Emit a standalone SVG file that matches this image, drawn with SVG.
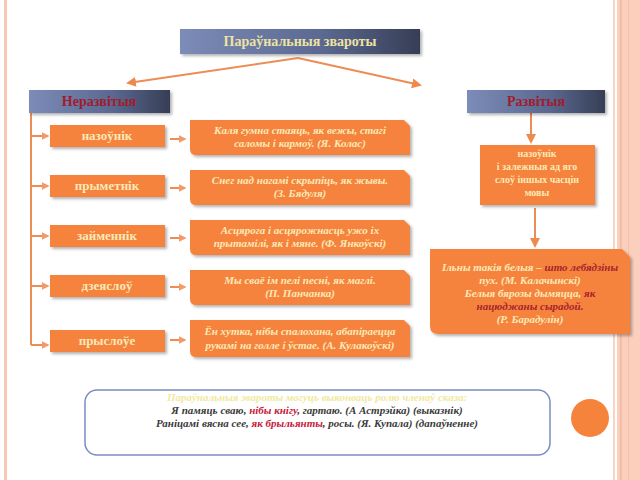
<svg xmlns="http://www.w3.org/2000/svg" width="640" height="480" viewBox="0 0 640 480">
<defs>
<linearGradient id="blue" x1="0" y1="0" x2="1" y2="0">
<stop offset="0" stop-color="#7c8cb8"/>
<stop offset="0.6" stop-color="#5a6890"/>
<stop offset="1" stop-color="#363e55"/>
</linearGradient>
<filter id="sh" x="-10%" y="-20%" width="125%" height="150%">
<feDropShadow dx="2" dy="2" stdDeviation="1.5" flood-color="#000" flood-opacity="0.3"/>
</filter>
<marker id="ah" viewBox="0 0 10 10" refX="8" refY="5" markerWidth="5" markerHeight="5" orient="auto">
<path d="M0,0 L10,5 L0,10 Z" fill="#ef8a4e"/>
</marker>
<marker id="ah2" viewBox="0 0 10 10" refX="8" refY="5" markerWidth="4" markerHeight="4" orient="auto">
<path d="M0,0 L10,5 L0,10 Z" fill="#f39a68"/>
</marker>
</defs>
<style>
.hd{font-family:"Liberation Serif",serif;font-weight:bold;font-size:14px;text-anchor:middle}
.sb{font-family:"Liberation Serif",serif;font-weight:bold;font-size:13px;fill:#fbe9b8;text-anchor:middle}
.rs{font-family:"Liberation Serif",serif;font-weight:bold;font-size:10px;fill:#fbe9b8;text-anchor:middle}
.q{font-family:"Liberation Serif",serif;font-weight:bold;font-style:italic;font-size:11px;fill:#fbe9b8;text-anchor:middle}
.r{fill:#a8242e}
.or{fill:#f6833c}
.ln{stroke:#ec8d55;stroke-width:2;fill:none}
.bt{font-family:"Liberation Serif",serif;font-style:italic;font-weight:bold;font-size:11px;fill:#3a3a3a;text-anchor:middle}
.rd{fill:#c8203a}
</style>
<rect width="640" height="480" fill="#fff"/>
<rect x="4" y="0" width="3" height="480" fill="#f8c8b4"/>
<rect x="613" y="0" width="2" height="480" fill="#fad3c3"/>
<rect x="617" y="0" width="23" height="480" fill="#fbcfbd"/>
<rect x="620" y="0" width="1.5" height="480" fill="#f4b7a0"/>
<rect x="628" y="0" width="1" height="480" fill="#f6bfa9"/>

<g id="connectors">
<line class="ln" x1="298" y1="58" x2="128" y2="83" marker-end="url(#ah)"/>
<line class="ln" x1="298" y1="58" x2="420" y2="85" marker-end="url(#ah)"/>
<path class="ln" d="M31,113 V345" stroke-width="1.5"/>
<line class="ln" x1="31" y1="136" x2="48" y2="136" stroke-width="1.5" marker-end="url(#ah2)"/>
<line class="ln" x1="31" y1="186" x2="48" y2="186" stroke-width="1.5" marker-end="url(#ah2)"/>
<line class="ln" x1="31" y1="236" x2="48" y2="236" stroke-width="1.5" marker-end="url(#ah2)"/>
<line class="ln" x1="31" y1="286" x2="48" y2="286" stroke-width="1.5" marker-end="url(#ah2)"/>
<line class="ln" x1="31" y1="345" x2="48" y2="345" stroke-width="1.5" marker-end="url(#ah2)"/>
<line class="ln" x1="170" y1="139" x2="185" y2="139" stroke-width="2" marker-end="url(#ah2)"/>
<line class="ln" x1="170" y1="188" x2="185" y2="188" stroke-width="2" marker-end="url(#ah2)"/>
<line class="ln" x1="170" y1="238" x2="185" y2="238" stroke-width="2" marker-end="url(#ah2)"/>
<line class="ln" x1="170" y1="287" x2="185" y2="287" stroke-width="2" marker-end="url(#ah2)"/>
<line class="ln" x1="170" y1="340" x2="185" y2="340" stroke-width="2" marker-end="url(#ah2)"/>
<line class="ln" x1="531" y1="113" x2="531" y2="142" marker-end="url(#ah)"/>
<line class="ln" x1="535" y1="208" x2="535" y2="246" marker-end="url(#ah)"/>
</g>

<g id="title">
<rect x="180" y="29" width="240" height="25" fill="url(#blue)" filter="url(#sh)"/>
<text class="hd" x="300" y="46" fill="#efe3a2">Параўнальныя звароты</text>
</g>
<g id="nerazv">
<rect x="29" y="90" width="141" height="23" fill="url(#blue)" filter="url(#sh)"/>
<text class="hd" x="99" y="106" fill="#a01c2c" font-size="13">Неразвітыя</text>
</g>
<g id="razv">
<rect x="467" y="90" width="138" height="23" fill="url(#blue)" filter="url(#sh)"/>
<text class="hd" x="536" y="106" fill="#a01c2c" font-size="13">Развітыя</text>
</g>

<g id="n1"><rect class="or" x="50" y="125" width="115" height="22" filter="url(#sh)"/><text class="sb" x="107" y="140">назоўнік</text></g>
<g id="n2"><rect class="or" x="50" y="175" width="115" height="22" filter="url(#sh)"/><text class="sb" x="107" y="190">прыметнік</text></g>
<g id="n3"><rect class="or" x="50" y="225" width="115" height="22" filter="url(#sh)"/><text class="sb" x="107" y="240">займеннік</text></g>
<g id="n4"><rect class="or" x="50" y="275" width="115" height="22" filter="url(#sh)"/><text class="sb" x="107" y="290">дзеяслоў</text></g>
<g id="n5"><rect class="or" x="50" y="330" width="115" height="22" filter="url(#sh)"/><text class="sb" x="107" y="345">прыслоўе</text></g>

<g id="q1"><path class="or" d="M190,120 H404 L410,126 V155 H196 Q190,155 190,149 Z" filter="url(#sh)"/>
<text class="q" x="300" y="134">Каля гумна стаяць, як вежы, стагі</text><text class="q" x="300" y="147">саломы і кармоў. (Я. Колас)</text></g>
<g id="q2"><path class="or" d="M190,170 H404 L410,176 V205 H196 Q190,205 190,199 Z" filter="url(#sh)"/>
<text class="q" x="300" y="184">Снег над нагамі скрыпіць, як жывы.</text><text class="q" x="300" y="197">(З. Бядуля)</text></g>
<g id="q3"><path class="or" d="M190,220 H404 L410,226 V255 H196 Q190,255 190,249 Z" filter="url(#sh)"/>
<text class="q" x="300" y="234">Асцярога і асцярожнасць ужо іх</text><text class="q" x="300" y="247">прытамілі, як і мяне. (Ф. Янкоўскі)</text></g>
<g id="q4"><path class="or" d="M190,270 H404 L410,276 V305 H196 Q190,305 190,299 Z" filter="url(#sh)"/>
<text class="q" x="300" y="284">Мы сваё ім пелі песні, як маглі.</text><text class="q" x="300" y="297">(П. Панчанка)</text></g>
<g id="q5"><path class="or" d="M190,320 H404 L410,326 V357 H196 Q190,357 190,351 Z" filter="url(#sh)"/>
<text class="q" x="300" y="335">Ён хутка, нібы спалохана, абапіраецца</text><text class="q" x="300" y="349">рукамі на голле і ўстае. (А. Кулакоўскі)</text></g>

<g id="rbox"><rect class="or" x="480" y="145" width="115" height="60" filter="url(#sh)"/>
<text class="rs" x="537" y="157">назоўнік</text>
<text class="rs" x="537" y="170">і залежныя ад яго</text>
<text class="rs" x="537" y="183">слоў іншых часцін</text>
<text class="rs" x="537" y="196">мовы</text></g>

<g id="rquote"><path class="or" d="M430,249 H622 L630,257 V334 H438 Q430,334 430,326 Z" filter="url(#sh)"/>
<text class="q" x="530" y="271">Ільны такія белыя – <tspan class="r">што лебядзіны</tspan></text>
<text class="q" x="530" y="284">пух. (М. Калачынскі)</text>
<text class="q" x="530" y="297">Белыя бярозы дымяцца, <tspan class="r">як</tspan></text>
<text class="q r" x="530" y="310">нацюджаны сырадой.</text>
<text class="q" x="530" y="323">(Р. Барадулін)</text></g>

<g id="bottom"><rect x="85" y="390" width="465" height="65" rx="12" fill="#fff" stroke="#7b8cc4" stroke-width="1.5"/>
<text class="bt" x="317" y="401" style="fill:#f1e9a0">Параўнальныя звароты могуць выконваць ролю членаў сказа:</text>
<text class="bt" x="317" y="414">Я памяць сваю, <tspan class="rd">нібы кнігу</tspan>, гартаю. (А Астрэйка) (выказнік)</text>
<text class="bt" x="317" y="427">Раніцамі вясна  сее, <tspan class="rd">як брыльянты</tspan>, росы. (Я. Купала) (дапаўненне)</text></g>

<circle id="dot" cx="590" cy="418" r="19" fill="#f6833c"/>
</svg>
